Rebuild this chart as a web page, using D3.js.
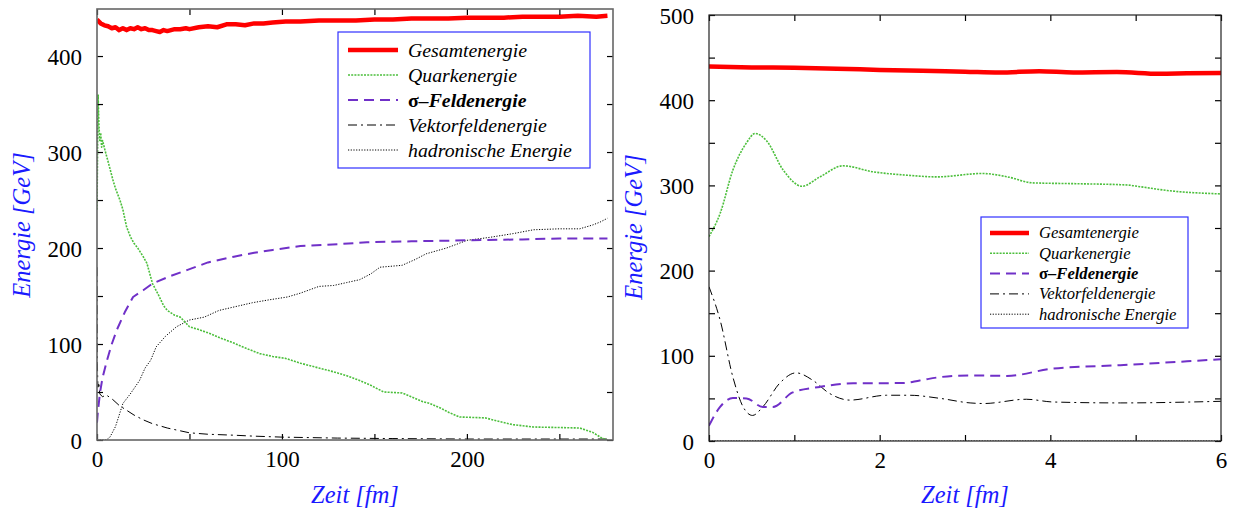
<!DOCTYPE html>
<html><head><meta charset="utf-8">
<script src="https://cdn.jsdelivr.net/npm/d3@7"></script>
<style>body{margin:0;background:#fff;}</style></head>
<body><svg id="c" width="1238" height="514"></svg>
<script>
// ---------- DATA ----------
const seriesNames = ["Gesamtenergie","Quarkenergie","σ-Feldenergie","Vektorfeldenergie","hadronische Energie"];
const leftXTicks = [0,100,200];
const leftYTicks = [0,100,200,300,400];
const rightXTicks = [0,2,4,6];
const rightYTicks = [0,100,200,300,400,500];

const leftGesamt = [[0,438],[1,436],[2,434],[4,432],[6,431],[8,429],[10,430],[12,427],[14,429],[16,427],[18,429],[20,428],[22,430],[24,428],[26,429],[28,427],[30,427],[32,426],[34,425],[36,427],[38,426],[40,427],[42,428],[45,428],[48,429],[50,428],[55,430],[60,431],[65,430],[70,433],[75,433],[80,432],[85,434],[90,434],[95,435],[102,436],[110,436],[120,437],[130,437],[140,437],[150,438],[160,438],[170,439],[180,439],[190,439],[200,440],[210,440],[220,440],[230,441],[240,441],[250,441],[260,442],[270,441],[276,442]];
const leftQuark = [[0,240],[0.3,300],[0.6,360],[1,330],[1.5,312],[2,320],[2.5,305],[3,312],[4.3,302],[6,290],[8.6,271],[10,262],[12.4,250],[14,240],[16,222],[18,212],[20,205],[22,200],[25,191],[27,184],[30,163],[33,152],[36,140],[38,135],[42,130],[45,128],[50,118],[55,115],[61,111],[67,106],[74,101],[80,96],[88,90],[95,87],[102,85],[110,80],[120,75],[128,71],[135,67],[142,62],[148,57],[155,50],[165,49],[170,45],[176,40],[180,38],[186,33],[190,29],[196,24],[210,23],[218,19],[225,16],[236,13.5],[250,13],[261,12.5],[268,8],[273,2],[276,0]];
const leftSigma = [[0,18],[0.5,30],[1.6,49],[3,65],[5.4,83],[8,100],[10.8,115],[15,133],[19.5,149],[25,156],[30,163],[40,171],[48.6,177],[60,185],[74,191],[85,195],[95,198],[110,202],[130,204],[146,206],[170,207],[200,208],[230,209],[250,210],[276,210]];
const leftVektor = [[0,180],[0.2,80],[0.5,55],[1,60],[1.5,48],[3,45],[5,47],[8.6,42],[12,36],[16,31],[20,26],[25,21],[30,17],[38,12.5],[44,10],[50,7.5],[60,6],[74,5],[85,4],[100,3],[130,2],[160,1.5],[200,1],[240,1],[276,1]];
const leftHadron = [[0,0],[5,0],[7,3],[10,14],[14,38],[18,48],[23,62],[26,75],[29,83],[32,97],[37,108],[43,118],[50,125],[58,128],[66,135],[75,139],[84,143],[93,146],[103,149],[110,153],[120,160],[128,161],[135,164],[142,167],[148,173],[153,180],[165,182],[172,188],[178,194],[189,200],[196,205],[200,208],[212,211],[225,215],[236,219],[250,220],[261,220],[268,224],[272,227],[276,231]];

const rightGesamt = [[0,439.5],[0.5,438.5],[1,438],[1.5,437],[2,435.5],[2.5,434.5],[3,433.5],[3.4,432.5],[3.87,434],[4.27,432.5],[4.78,433],[5.28,431],[5.6,431.5],[6,432]];
const rightQuark = [[0,240],[0.13,267],[0.28,318],[0.44,350],[0.54,361],[0.67,353],[0.87,318],[1.09,299],[1.3,310],[1.57,323],[1.92,316],[2.32,312],[2.67,310],[3.2,314],[3.5,310],[3.79,303],[4.3,302],[4.9,300.5],[5.05,298.5],[5.37,294],[6,290]];
const rightSigma = [[0,18],[0.13,40],[0.28,50.5],[0.44,50],[0.63,40],[0.75,40],[0.98,57],[1.3,63.5],[1.69,67.8],[2.27,68],[2.47,71],[2.71,75],[3.06,77],[3.49,76.4],[4.03,85],[4.82,89],[6,96]];
const rightVektor = [[0,181],[0.13,142],[0.28,75],[0.4,40],[0.51,30],[0.63,40],[0.83,68],[1.02,80],[1.22,71],[1.41,56],[1.65,48],[2.08,53.7],[2.35,53.7],[2.71,50],[3.06,44.7],[3.22,44],[3.72,49],[4.03,45.8],[4.82,44.7],[6,46.6]];
const rightHadron = [[0,0],[3,0],[6,0]];

// ---------- STYLES ----------
const FONT = '"Liberation Serif"';
const styles = [
  {color:"#ff0000", width:4.5, dash:null},
  {color:"#4cbf3c", width:1.6, dash:"2,1.2"},
  {color:"#7030c8", width:2, dash:"10,6"},
  {color:"#000", width:1, dash:"9,4,2,4"},
  {color:"#000", width:1, dash:"1.2,1.5"}
];

const svg = d3.select("#c");

function txt(sel){ return sel.style("font-family",FONT); }

function panel(cfg){
  const {x0,x1,y0,y1,xDom,yDom,xTicks,yTicks,xMinor,yMinor,data,curve,frameColor,frameWidth,legend} = cfg;
  const x = d3.scaleLinear().domain(xDom).range([x0,x1]);
  const y = d3.scaleLinear().domain(yDom).range([y1,y0]);
  const g = svg.append("g");
  const id = "clip"+x0;
  svg.append("clipPath").attr("id",id).append("rect").attr("x",x0).attr("y",y0).attr("width",x1-x0).attr("height",y1-y0);

  const line = d3.line().x(d=>x(d[0])).y(d=>y(d[1])).curve(curve);
  const order = [4,3,1,2,0];
  order.forEach(i=>{
    const s = styles[i];
    g.append("path").attr("d",line(data[i])).attr("fill","none")
      .attr("stroke",s.color).attr("stroke-width",s.width)
      .attr("stroke-dasharray",s.dash).attr("clip-path",`url(#${id})`)
      .attr("stroke-linejoin","round");
  });

  const tk = (axis, tr, vals, size)=>{
    const a = g.append("g").attr("transform",tr).call(axis.tickValues(vals).tickSize(size).tickFormat(""));
    a.select(".domain").remove();
    a.selectAll("line").attr("stroke","#000").attr("stroke-width",1.2);
  };
  tk(d3.axisBottom(x), `translate(0,${y1})`, xMinor, -6);
  tk(d3.axisTop(x), `translate(0,${y0})`, xMinor, -6);
  tk(d3.axisLeft(y), `translate(${x0},0)`, yMinor, -6);
  tk(d3.axisRight(y), `translate(${x1},0)`, yMinor, -6);

  const lb = g.append("g").attr("transform",`translate(0,${y1})`)
    .call(d3.axisBottom(x).tickValues(xTicks).tickSize(0).tickPadding(11).tickFormat(d3.format("d")));
  lb.select(".domain").remove();
  txt(lb.selectAll("text").attr("font-size",23).attr("fill","#000"));
  const lby = g.append("g").attr("transform",`translate(${x0},0)`)
    .call(d3.axisLeft(y).tickValues(yTicks).tickSize(0).tickPadding(15).tickFormat(d3.format("d")));
  lby.select(".domain").remove();
  txt(lby.selectAll("text").attr("font-size",23).attr("fill","#000").attr("dy","0.35em"));

  g.append("rect").attr("x",x0).attr("y",y0).attr("width",x1-x0).attr("height",y1-y0)
    .attr("fill","none").attr("stroke",frameColor).attr("stroke-width",frameWidth);

  txt(g.append("text").attr("x",(x0+x1)/2).attr("y",cfg.xLabelY).attr("text-anchor","middle")
    .attr("font-size",24.5).attr("font-style","italic").attr("fill","#1a1aff").text("Zeit [fm]"));
  txt(g.append("text").attr("transform",`translate(${cfg.yLabelX},${cfg.yLabelY}) rotate(-90)`).attr("text-anchor","middle")
    .attr("font-size",24.5).attr("font-style","italic").attr("fill","#1a1aff").text("Energie [GeV]"));

  const L = legend;
  g.append("rect").attr("x",L.x).attr("y",L.y).attr("width",L.w).attr("height",L.h)
    .attr("fill","#fff").attr("stroke","#3030ff").attr("stroke-width",1.2);
  seriesNames.forEach((n,i)=>{
    const yy = L.firstY + i*L.step;
    const s = styles[i];
    g.append("line").attr("x1",L.sx0).attr("x2",L.sx1).attr("y1",yy).attr("y2",yy)
      .attr("stroke",s.color).attr("stroke-width",s.width).attr("stroke-dasharray",s.dash);
    const t = txt(g.append("text").attr("x",L.tx).attr("y",yy).attr("dy","0.33em")
      .attr("font-size",L.fs).attr("fill","#000"));
    if(i===2){
      t.attr("font-weight","bold");
      t.append("tspan").text("σ");
      t.append("tspan").attr("font-style","italic").text("–Feldenergie");
    } else {
      t.attr("font-style","italic").text(n);
    }
  });
}

panel({
  x0:97,x1:613,y0:9,y1:440,xDom:[0,279],yDom:[0,449],
  xTicks:leftXTicks,yTicks:leftYTicks,
  xMinor:d3.range(0,279,50),yMinor:d3.range(0,449,50),
  data:[leftGesamt,leftQuark,leftSigma,leftVektor,leftHadron],
  curve:d3.curveLinear,frameColor:"#666",frameWidth:1.6,
  xLabelY:503,yLabelX:30,yLabelY:225,
  legend:{x:338,y:32,w:252,h:136,firstY:50,step:25,sx0:348,sx1:398,tx:408,fs:19.8}
});
panel({
  x0:709,x1:1221,y0:15,y1:441,xDom:[0,6],yDom:[0,500],
  xTicks:rightXTicks,yTicks:rightYTicks,
  xMinor:d3.range(0,6.01,1),yMinor:d3.range(0,501,50),
  data:[rightGesamt,rightQuark,rightSigma,rightVektor,rightHadron],
  curve:d3.curveMonotoneX,frameColor:"#222",frameWidth:1.2,
  xLabelY:503,yLabelX:642,yLabelY:227,
  legend:{x:981,y:217,w:207,h:111,firstY:233,step:20.3,sx0:990,sx1:1029,tx:1039,fs:16.6}
});
</script></body></html>
